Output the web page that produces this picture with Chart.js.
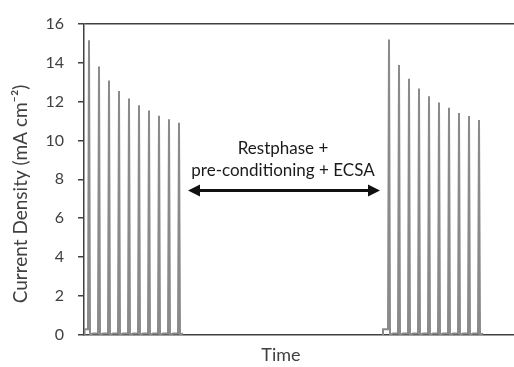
<!DOCTYPE html>
<html>
<head>
<meta charset="utf-8">
<script src="https://cdn.jsdelivr.net/npm/chart.js@4"></script>
<style>
  html, body { margin: 0; padding: 0; background: #fff; overflow: hidden; }
</style>
</head>
<body>
<canvas id="chart" width="514" height="367"></canvas>
<script>
// data (time in arbitrary units)
const peakTimes1 = [1, 3, 5, 7, 9, 11, 13, 15, 17, 19];
const peakHeights1 = [15.15, 13.8, 13.07, 12.54, 12.15, 11.8, 11.53, 11.26, 11.08, 10.9];
const peakTimes2 = [61, 63, 65, 67, 69, 71, 73, 75, 77, 79];
const peakHeights2 = [15.18, 13.87, 13.17, 12.66, 12.27, 11.95, 11.68, 11.41, 11.25, 11.05];
const groupStarts = [0.1, 59.8];
const startLevel = 0.3;
const baseLevel = 0.08;
const yTicks = [0, 2, 4, 6, 8, 10, 12, 14, 16];
const arrowFrom = 20.8, arrowTo = 59.2, arrowY = 7.42;
const noteLines = ['Restphase +', 'pre-conditioning + ECSA'];
const noteX = 39.8, noteY = [9.59, 8.47];

const textColor = '#404040';
const axisColor = '#404040';
const fontFamily = 'Lato, "Open Sans", sans-serif';

// each spike: sharp rise to the peak and straight back down
function buildGroup(start, times, heights) {
    const pts = [{x: start, y: 0}, {x: start, y: startLevel}];
    times.forEach((t, i) => {
        pts.push({x: t - 0.2, y: i === 0 ? startLevel : baseLevel});
        pts.push({x: t, y: heights[i]});
        pts.push({x: t + 0.2, y: 0});
        pts.push({x: t + 0.8, y: baseLevel});
    });
    return pts;
}

const seriesData = buildGroup(groupStarts[0], peakTimes1, peakHeights1)
    .concat([{x: 40, y: null}])
    .concat(buildGroup(groupStarts[1], peakTimes2, peakHeights2));

const notePlugin = {
    id: 'notes',
    afterDraw(chart) {
        const c = chart.ctx;
        const xs = chart.scales.x, ys = chart.scales.y;
        const area = chart.chartArea;
        const x1 = xs.getPixelForValue(arrowFrom), x2 = xs.getPixelForValue(arrowTo);
        const y = ys.getPixelForValue(arrowY);
        const head = 12, half = 6;
        c.save();
        c.strokeStyle = '#111';
        c.fillStyle = '#111';
        c.lineWidth = 3;
        c.beginPath();
        c.moveTo(x1 + head - 2, y);
        c.lineTo(x2 - head + 2, y);
        c.stroke();
        c.beginPath();
        c.moveTo(x1, y); c.lineTo(x1 + head, y - half); c.lineTo(x1 + head, y + half); c.closePath();
        c.fill();
        c.beginPath();
        c.moveTo(x2, y); c.lineTo(x2 - head, y - half); c.lineTo(x2 - head, y + half); c.closePath();
        c.fill();

        c.font = '17px ' + fontFamily;
        c.fillStyle = '#1a1a1a';
        c.textAlign = 'center';
        c.textBaseline = 'middle';
        noteLines.forEach((line, i) => {
            c.fillText(line, xs.getPixelForValue(noteX), ys.getPixelForValue(noteY[i]));
        });

        // axis titles (the y title sits a little below the plot centre in the original)
        c.font = '18px ' + fontFamily;
        c.fillStyle = textColor;
        c.fillText('Time', area.left + 0.458 * (area.right - area.left), 355);
        c.font = '19px ' + fontFamily;
        c.translate(21, 194);
        c.rotate(-Math.PI / 2);
        c.fillText('Current Density (mA cm\u207B\u00B2)', 0, 0);
        c.restore();
    }
};

new Chart(document.getElementById('chart').getContext('2d'), {
    type: 'line',
    data: {
        datasets: [{
            data: seriesData,
            borderColor: '#8a8a8a',
            borderWidth: 2,
            pointRadius: 0,
            tension: 0,
            spanGaps: false
        }]
    },
    options: {
        responsive: false,
        animation: false,
        devicePixelRatio: 1,
        layout: { padding: { top: 18, right: 0, bottom: 0, left: 0 } },
        plugins: { legend: { display: false }, tooltip: { enabled: false } },
        scales: {
            x: {
                type: 'linear',
                min: 0,
                max: 86,
                ticks: { display: false },
                grid: { display: false, drawTicks: false },
                border: { display: true, color: axisColor, width: 1.5 },
                afterFit(scale) { scale.height = 32; }
            },
            y: {
                min: 0,
                max: 16,
                afterBuildTicks(scale) { scale.ticks = yTicks.map(v => ({value: v})); },
                ticks: {
                    color: textColor,
                    font: { family: fontFamily, size: 16 },
                    padding: 14
                },
                grid: {
                    color: ctx => (ctx.tick && ctx.tick.value === 16) ? axisColor : 'rgba(0,0,0,0)',
                    lineWidth: 1.5,
                    tickColor: axisColor,
                    tickLength: 6
                },
                border: { display: true, color: axisColor, width: 1.5 },
                afterFit(scale) { scale.width = 84; }
            }
        }
    },
    plugins: [notePlugin]
});
</script>
</body>
</html>
